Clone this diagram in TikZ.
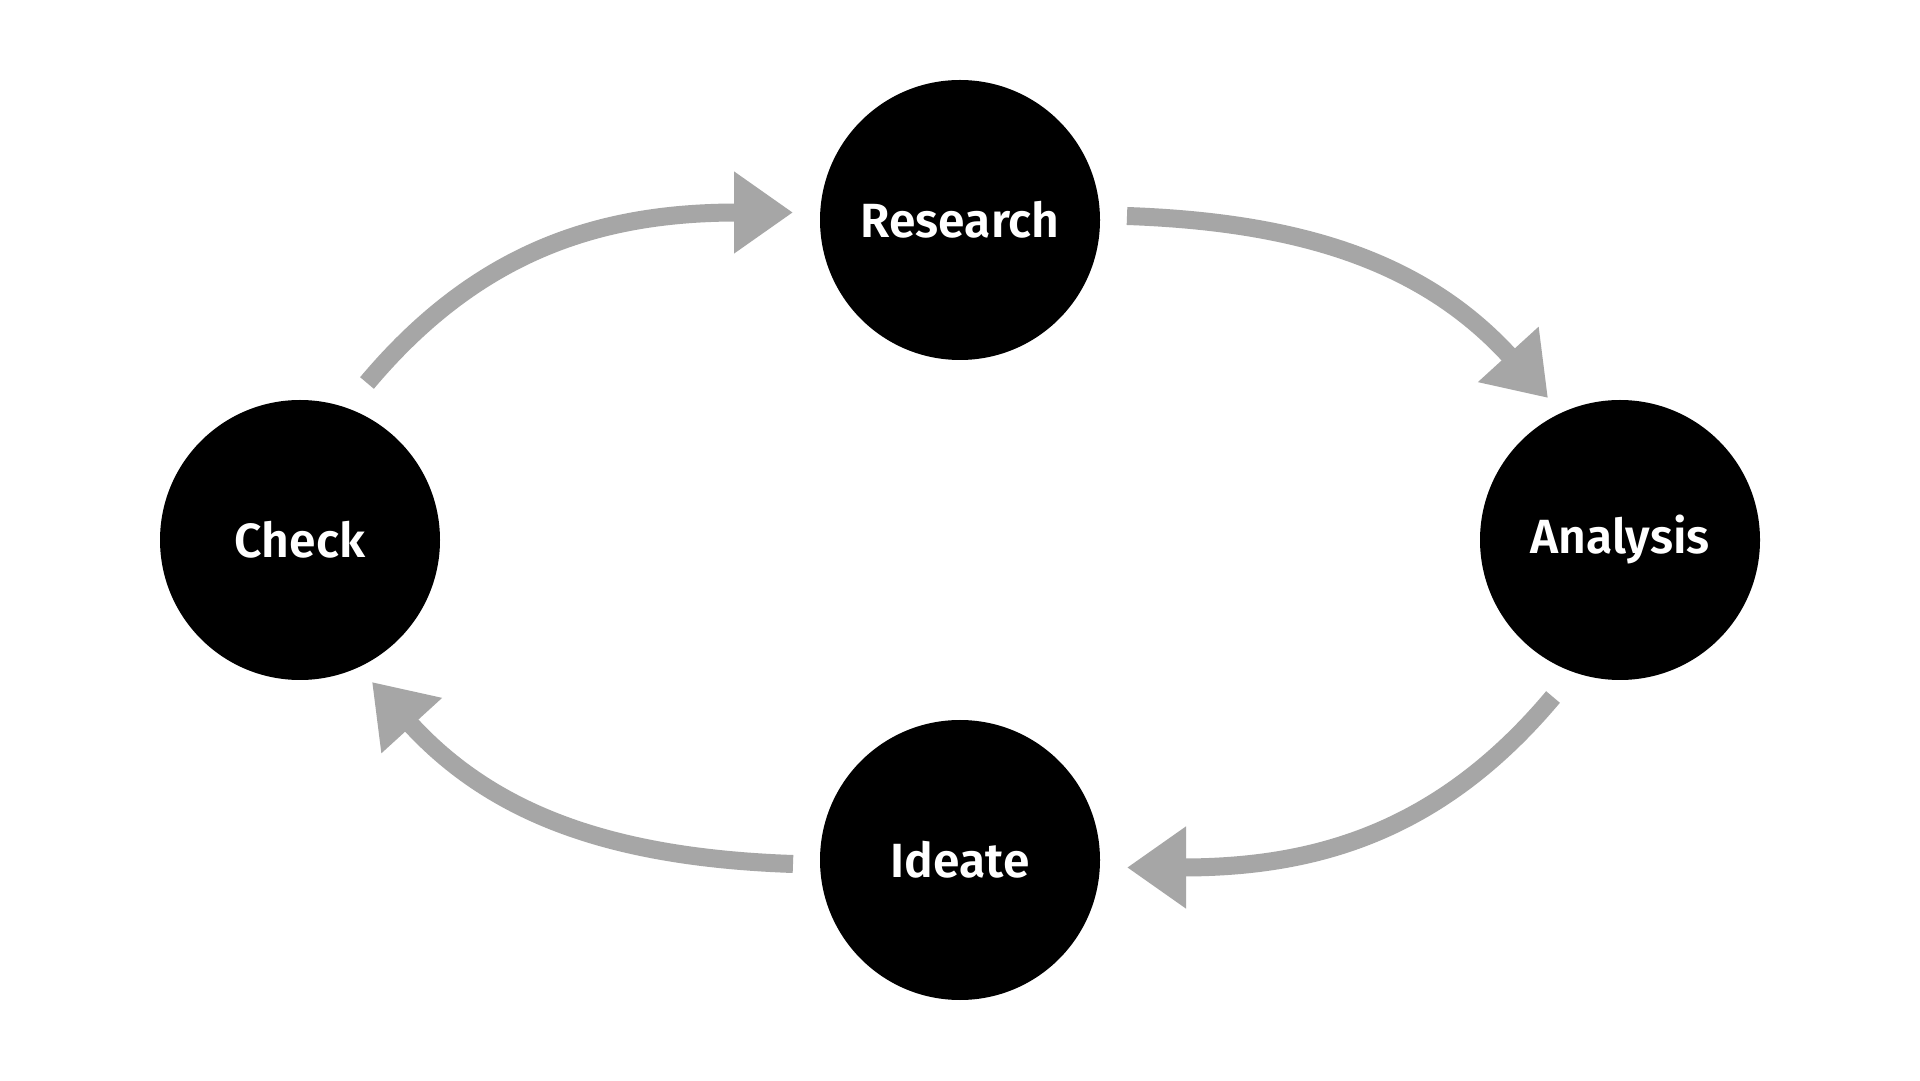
\documentclass[tikz,border=0pt]{standalone}
\usepackage{fontspec}
\setmainfont{Fira Sans}[BoldFont={Fira Sans SemiBold}]
\usetikzlibrary{arrows.meta,calc}
\begin{document}
\begin{tikzpicture}[x=1pt,y=1pt,
  stage/.style={circle,fill=black,minimum size=280pt,inner sep=0pt,text=white,font=\bfseries\fontsize{48}{54}\selectfont},
  cyc/.style={draw={rgb,255:red,166;green,166;blue,166},line width=18pt,-{Triangle[length=59pt,width=78pt]}}]
\useasboundingbox[fill=white] (0,0) rectangle (1920,1080);
\node[stage] (research) at (960,860) {Research};
\node[stage] (analysis) at (1620,540) {Analysis};
\node[stage] (ideate) at (960,220) {Ideate};
\node[stage] (check) at (300,540) {Check};
% arrow end points
\coordinate (a1s) at ($(check)+(67,157)$);
\coordinate (a1e) at ($(research)+(-167,7.5)$);
\coordinate (a2s) at ($(research)+(167,4)$);
\coordinate (a2e) at ($(analysis)+(-72,142)$);
\coordinate (a3s) at ($(analysis)+(-67,-157)$);
\coordinate (a3e) at ($(ideate)+(167,-7.5)$);
\coordinate (a4s) at ($(ideate)+(-167,-4)$);
\coordinate (a4e) at ($(check)+(72,-142)$);
\draw[cyc] (a1s) .. controls +(112.5,134.1) and +(-190,0) .. (a1e);
\draw[cyc] (a2s) .. controls +(179.9,-6.3) and +(-121.3,133) .. (a2e);
\draw[cyc] (a3s) .. controls +(-112.5,-134.1) and +(190,0) .. (a3e);
\draw[cyc] (a4s) .. controls +(-179.9,6.3) and +(121.3,-133) .. (a4e);
\end{tikzpicture}
\end{document}
